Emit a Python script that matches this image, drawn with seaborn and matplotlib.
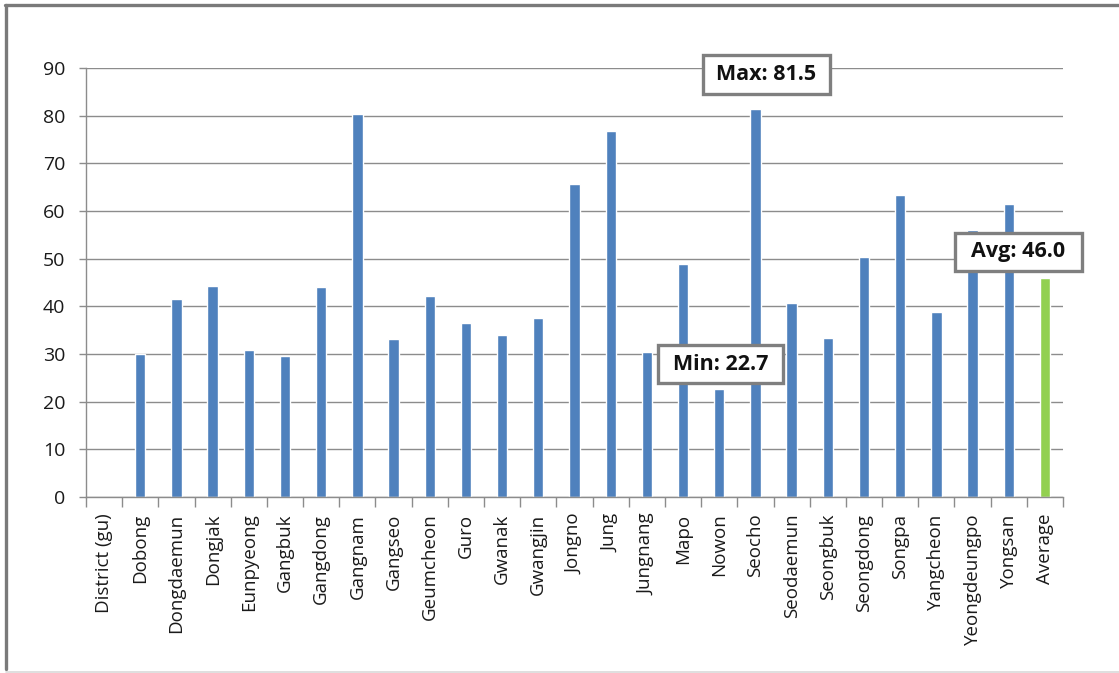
import numpy as np
import pandas as pd
import matplotlib
matplotlib.use("Agg")
import matplotlib.pyplot as plt
import seaborn as sns
from matplotlib.patches import Rectangle
from matplotlib.lines import Line2D

# District values (first slot is the column header, which has no value)
districts = [
    "District (gu)", "Dobong", "Dongdaemun", "Dongjak", "Eunpyeong", "Gangbuk",
    "Gangdong", "Gangnam", "Gangseo", "Geumcheon", "Guro", "Gwanak", "Gwangjin",
    "Jongno", "Jung", "Jungnang", "Mapo", "Nowon", "Seocho", "Seodaemun",
    "Seongbuk", "Seongdong", "Songpa", "Yangcheon", "Yeongdeungpo", "Yongsan",
]
district_values = [
    np.nan, 30.0, 41.6, 44.3, 30.8, 29.6,
    44.0, 80.4, 33.1, 42.2, 36.6, 34.0, 37.5,
    65.6, 76.8, 30.5, 48.9, 22.7, 81.5, 40.6,
    33.3, 50.3, 63.3, 38.9, 56.0, 61.5,
]
average_label = "Average"
average_value = 46.0
y_ticks = [0, 10, 20, 30, 40, 50, 60, 70, 80, 90]

categories = districts + [average_label]
values = district_values + [average_value]
kinds = ["district"] * len(districts) + ["average"]
df = pd.DataFrame({"name": categories, "value": values, "kind": kinds})

W, H = 1119, 673
sns.set_style("white")
plt.rcParams["font.family"] = ["Open Sans", "DejaVu Sans"]

fig = plt.figure(figsize=(W / 100, H / 100), dpi=100)
ax = fig.add_axes([86 / W, 1 - 497 / H, (1063 - 86) / W, (497 - 68) / H])

sns.barplot(
    data=df, x="name", y="value", hue="kind", order=categories,
    palette={"district": "#4F81BD", "average": "#92D050"},
    width=0.285, dodge=False, saturation=1, legend=False, ax=ax,
)

grid_color = "#8c8c8c"
text_color = "#1a1a1a"
ax.set_xlim(-0.5, len(categories) - 0.5)
ax.set_ylim(y_ticks[0], y_ticks[-1])
ax.set_yticks(y_ticks)
ax.set_yticklabels([str(t) for t in y_ticks])
ax.yaxis.grid(True, color=grid_color, linewidth=1)
ax.set_axisbelow(True)
ax.set_xlabel("")
ax.set_ylabel("")

for side in ("top", "right"):
    ax.spines[side].set_visible(False)
for side in ("left", "bottom"):
    ax.spines[side].set_color(grid_color)
    ax.spines[side].set_linewidth(1)

# category labels at bar centres, tick marks at the category boundaries
ax.set_xticks(range(len(categories)))
ax.set_xticklabels(categories, rotation=90, fontsize=13.5, color=text_color)
ax.set_xticks(np.arange(-0.5, len(categories), 1.0), minor=True)
ax.tick_params(axis="x", which="major", length=0, pad=12)
ax.tick_params(axis="x", which="minor", length=7, color=grid_color, width=1, bottom=True)
ax.tick_params(axis="y", length=5, color=grid_color, width=1, pad=10,
               labelsize=14, labelcolor=text_color, left=True)


def callout(cx, cy, w, h, text):
    fig.add_artist(Rectangle(((cx - w / 2) / W, 1 - (cy + h / 2) / H), w / W, h / H,
                             transform=fig.transFigure, facecolor="white",
                             edgecolor="#7f7f7f", linewidth=2.4, zorder=5))
    fig.text(cx / W, 1 - cy / H, text, ha="center", va="center",
             fontsize=15.5, fontweight="bold", color="#111111", zorder=6)


valid = [v for v in district_values if not np.isnan(v)]
callout(766.5, 74.5, 127, 39, f"Max: {max(valid):.1f}")
callout(720.5, 364, 125, 38, f"Min: {min(valid):.1f}")
callout(1018.5, 252, 127, 38, f"Avg: {average_value:.1f}")

# chart frame
frame = "#7a7a7a"
fig.add_artist(Line2D([5 / W, 1], [1 - 5 / H, 1 - 5 / H], transform=fig.transFigure,
                      color=frame, linewidth=2.4))
fig.add_artist(Line2D([6 / W, 6 / W], [1 - 5 / H, 1 - 669 / H], transform=fig.transFigure,
                      color=frame, linewidth=2.4))
fig.add_artist(Line2D([6 / W, 1], [1 - 671.5 / H, 1 - 671.5 / H], transform=fig.transFigure,
                      color="#d9d9d9", linewidth=1.2))

fig.savefig("out.png", dpi=100)
